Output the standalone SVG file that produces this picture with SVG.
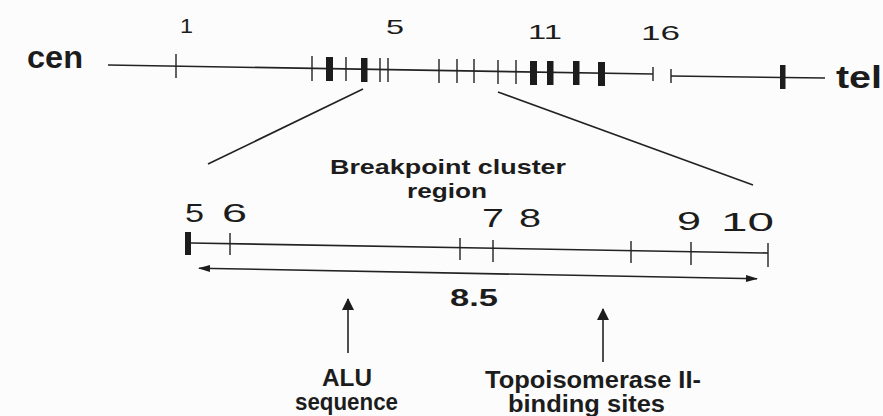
<svg xmlns="http://www.w3.org/2000/svg" width="883" height="416" viewBox="0 0 883 416">
<style>
.ln{stroke:#222;stroke-width:1.6;fill:none}
.tk{stroke:#222;stroke-width:1.4}
.bar{fill:#1c1c1c}
.num{font-family:"Liberation Sans",Arial,sans-serif;fill:#1c1c1c}
.lbl{font-family:"Liberation Sans",Arial,sans-serif;font-weight:bold;fill:#1c1c1c}
</style>
<defs>
<marker id="ah" markerUnits="userSpaceOnUse" markerWidth="12" markerHeight="14" refX="11" refY="6" orient="auto"><path d="M0,0 L12,6 L0,12 Z" fill="#1c1c1c"/></marker>
<marker id="ahs" markerUnits="userSpaceOnUse" markerWidth="12" markerHeight="8" refX="11" refY="3.5" orient="auto-start-reverse"><path d="M0,0 L12,3.5 L0,7 Z" fill="#1c1c1c"/></marker>
</defs>
<rect width="883" height="416" fill="#fcfcfc"/>
<g id="chromosome">
<path class="ln" d="M108,65 L653,74"/>
<path class="ln" d="M671,76 L825,78"/>
<g class="tk">
<line x1="176" y1="54" x2="176" y2="78"/>
<line x1="312" y1="56" x2="312" y2="81"/>
<line x1="346" y1="57" x2="346" y2="81"/>
<line x1="380" y1="58" x2="380" y2="82"/>
<line x1="388" y1="58" x2="388" y2="82"/>
<line x1="439" y1="59" x2="439" y2="83"/>
<line x1="457" y1="59" x2="457" y2="83"/>
<line x1="474" y1="59" x2="474" y2="83"/>
<line x1="498" y1="60" x2="498" y2="84"/>
<line x1="516" y1="60" x2="516" y2="84"/>
<line x1="653" y1="67" x2="653" y2="81"/>
<line x1="671" y1="69" x2="671" y2="83"/>
</g>
<rect class="bar" x="326" y="57" width="7" height="24"/>
<rect class="bar" x="361" y="58" width="6.5" height="24"/>
<rect class="bar" x="530" y="61" width="7" height="24"/>
<rect class="bar" x="547" y="61" width="6.5" height="24"/>
<rect class="bar" x="573" y="61" width="6.5" height="24"/>
<rect class="bar" x="598" y="62" width="7" height="24"/>
<rect class="bar" x="780" y="65" width="5.5" height="24"/>
<text class="lbl" x="27" y="68" font-size="31" textLength="56" lengthAdjust="spacingAndGlyphs">cen</text>
<text class="lbl" x="836" y="88" font-size="31" textLength="46" lengthAdjust="spacingAndGlyphs">tel</text>
<text class="num" x="180" y="33" font-size="21" textLength="13" lengthAdjust="spacingAndGlyphs">1</text>
<text class="num" x="386" y="34" font-size="21" textLength="18" lengthAdjust="spacingAndGlyphs">5</text>
<text class="num" x="528" y="39" font-size="21" textLength="34" lengthAdjust="spacingAndGlyphs">11</text>
<text class="num" x="641" y="40" font-size="21" textLength="39" lengthAdjust="spacingAndGlyphs">16</text>
</g>
<g id="connectors">
<line class="ln" x1="363" y1="89" x2="208" y2="164" stroke-width="1.2"/>
<line class="ln" x1="498" y1="92" x2="753" y2="185" stroke-width="1.2"/>
<line class="ln" x1="199" y1="268.2" x2="757" y2="278.8" stroke-width="1.4" marker-start="url(#ahs)" marker-end="url(#ahs)"/>
<line class="ln" x1="348" y1="353" x2="348" y2="299" stroke-width="2" marker-end="url(#ah)"/>
<line class="ln" x1="603" y1="362" x2="603" y2="309" stroke-width="2" marker-end="url(#ah)"/>
</g>
<g id="bcr">
<path class="ln" d="M191,243 L768,253"/>
<rect class="bar" x="185" y="232" width="6" height="23"/>
<g class="tk">
<line x1="230" y1="233" x2="230" y2="255"/>
<line x1="460" y1="238" x2="460" y2="260"/>
<line x1="493" y1="240" x2="493" y2="262"/>
<line x1="631" y1="241" x2="631" y2="263"/>
<line x1="691" y1="242" x2="691" y2="265"/>
<line x1="768" y1="243" x2="768" y2="267"/>
</g>
<text class="lbl" x="330" y="174" font-size="21" textLength="236" lengthAdjust="spacingAndGlyphs">Breakpoint cluster</text>
<text class="lbl" x="407" y="198" font-size="21" textLength="80" lengthAdjust="spacingAndGlyphs">region</text>
<text class="num" x="185" y="222" font-size="25" textLength="19" lengthAdjust="spacingAndGlyphs">5</text>
<text class="num" x="222" y="222" font-size="25" textLength="25" lengthAdjust="spacingAndGlyphs">6</text>
<text class="num" x="482" y="227" font-size="25" textLength="22" lengthAdjust="spacingAndGlyphs">7</text>
<text class="num" x="519" y="227" font-size="25" textLength="22" lengthAdjust="spacingAndGlyphs">8</text>
<text class="num" x="677" y="230" font-size="25" textLength="24" lengthAdjust="spacingAndGlyphs">9</text>
<text class="num" x="721" y="231" font-size="25" textLength="53" lengthAdjust="spacingAndGlyphs">10</text>
<text class="lbl" x="450" y="306" font-size="24" textLength="48" lengthAdjust="spacingAndGlyphs">8.5</text>
</g>
<g id="alu">
<text class="lbl" x="322" y="386" font-size="23" textLength="50" lengthAdjust="spacingAndGlyphs">ALU</text>
<text class="lbl" x="295" y="410" font-size="23" textLength="103" lengthAdjust="spacingAndGlyphs">sequence</text>
</g>
<g id="topo">
<text class="lbl" x="485" y="388" font-size="23" textLength="216" lengthAdjust="spacingAndGlyphs">Topoisomerase II-</text>
<text class="lbl" x="508" y="412" font-size="23" textLength="157" lengthAdjust="spacingAndGlyphs">binding sites</text>
</g>
</svg>
